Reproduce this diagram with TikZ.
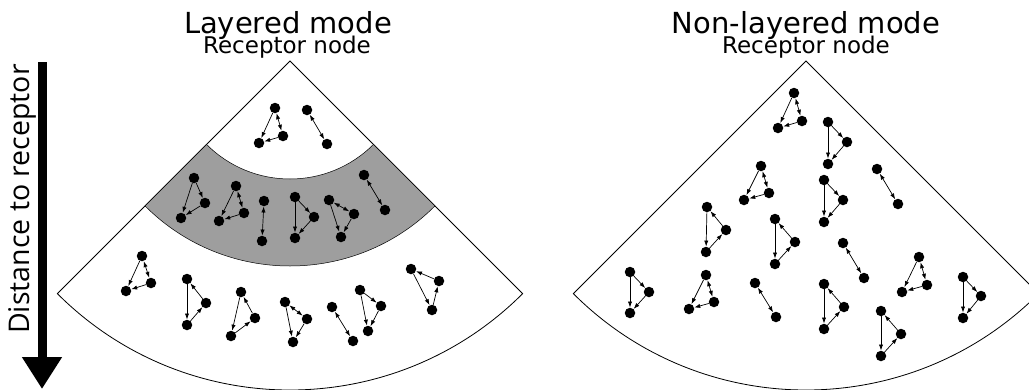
\documentclass[tikz,border=0pt]{standalone}
\usepackage{fontspec}
\setmainfont{DejaVu Sans}
\newfontfamily\sidefont{Open Sans}
\usetikzlibrary{arrows.meta,positioning}
\definecolor{bandgray}{gray}{0.62}
\tikzset{
	agent/.style={
		circle,
		fill=black,
		inner sep=0pt,
		minimum size=10.5pt,
	},
	link/.style={
		line width=0.7pt,
		>={Latex[length=6pt,width=4.2pt]},
		->,
	},
	fan/.style={draw=black, line width=0.8pt},
	band/.style={fill=bandgray, draw=black, line width=0.5pt},
}
% t <-> r, t -> b, r -> b
\newcommand{\mutualtri}[4]{%
	\node	(#1t)	[agent]	at (#2)	{};
	\node	(#1r)	[agent]	at (#3)	{};
	\node	(#1b)	[agent]	at (#4)	{};
	\path[link] (#1t) edge[<->] (#1r) (#1t) edge (#1b) (#1r) edge (#1b);
}
% t -> r, t -> b, r -> b
\newcommand{\forwardtri}[4]{%
	\node	(#1t)	[agent]	at (#2)	{};
	\node	(#1r)	[agent]	at (#3)	{};
	\node	(#1b)	[agent]	at (#4)	{};
	\path[link] (#1t) edge (#1r) (#1t) edge (#1b) (#1r) edge (#1b);
}
% t -> b -> r -> t
\newcommand{\cycletri}[4]{%
	\node	(#1t)	[agent]	at (#2)	{};
	\node	(#1r)	[agent]	at (#3)	{};
	\node	(#1b)	[agent]	at (#4)	{};
	\path[link] (#1t) edge (#1b) (#1b) edge (#1r) (#1r) edge (#1t);
}
% a <-> b
\newcommand{\mutualpair}[3]{%
	\node	(#1a)	[agent]	at (#2)	{};
	\node	(#1b)	[agent]	at (#3)	{};
	\path[link] (#1a) edge[<->] (#1b);
}

\begin{document}
\begin{tikzpicture}[x=1pt, y=-1pt]
\useasboundingbox (0,0) rectangle (1029,389);

\coordinate	(apexL)	at (290,61);
\coordinate	(apexR)	at (806,61);

% layered mode
\draw[fan] (apexL) -- ++(45:329) arc[start angle=45, end angle=135, radius=329] -- cycle;
\draw[band] (apexL) ++(45:118) arc[start angle=45, end angle=135, radius=118] -- ++(135:87) arc[start angle=135, end angle=45, radius=205] -- cycle;

% non-layered mode
\draw[fan] (apexR) -- ++(45:329) arc[start angle=45, end angle=135, radius=329] -- cycle;

\node	(titleL)	[anchor=base, font=\fontsize{29}{29}\selectfont]	at (288,33)	{Layered mode};
\node	(recL)	[anchor=base, font=\fontsize{23}{23}\selectfont]	at (287,53)	{Receptor node};
\node	(titleR)	[anchor=base, font=\fontsize{29}{29}\selectfont]	at (806,33)	{Non-layered mode};
\node	(recR)	[anchor=base, font=\fontsize{23}{23}\selectfont]	at (806,53)	{Receptor node};

% distance arrow
\coordinate	(distTop)	at (42,62);
\coordinate	(distEnd)	at (42,389);
\draw[line width=9pt, -{Triangle[length=32pt,width=38pt]}] (distTop) -- (distEnd);
\node	(distLabel)	[rotate=90, anchor=base east, inner sep=0pt, font=\sidefont\fontsize{28.5}{28.5}\selectfont]	at (30,64)	{Distance to receptor};

% layered: near the receptor
\mutualtri{lt1}{275,108}{283,136}{259,143}
\mutualpair{lt2}{307,110}{327,144}

% layered: grey band
\forwardtri{lb1}{194,178}{205,203}{181,218}
\mutualtri{lb2}{236,186}{244,213}{219,221}
\mutualpair{lb3}{264,201}{262,241}
\forwardtri{lb4}{295,197}{314,217}{295,238}
\mutualtri{lb5}{329,200}{354,214}{341,237}
\mutualpair{lb6}{364,175}{385,210}

% layered: far from the receptor
\mutualtri{lo1}{142,256}{151,283}{126,291}
\cycletri{lo2}{187,279}{206,303}{187,325}
\cycletri{lo3}{241,292}{255,318}{231,336}
\mutualtri{lo4}{285,302}{307,319}{293,342}
\mutualpair{lo5}{332,307}{353,341}
\forwardtri{lo6}{360,290}{381,306}{368,331}
\cycletri{lo7}{411,269}{439,281}{432,310}

% non-layered
\mutualtri{nl1}{794,93}{802,121}{778,128}
\forwardtri{nl2}{828,122}{847,142}{828,164}
\mutualtri{nl3}{761,166}{769,193}{744,200}
\forwardtri{nl4}{824,180}{843,200}{824,222}
\mutualpair{nl5}{877,169}{898,204}
\cycletri{nl6}{707,207}{726,230}{706,252}
\cycletri{nl7}{775,219}{795,242}{775,264}
\mutualpair{nl8}{843,243}{864,278}
\mutualtri{nl9}{919,257}{927,285}{902,292}
\forwardtri{nl10}{963,277}{981,296}{963,318}
\forwardtri{nl11}{630,272}{649,292}{630,313}
\mutualtri{nl12}{706,275}{714,302}{689,309}
\mutualpair{nl13}{755,283}{776,317}
\cycletri{nl14}{824,284}{844,307}{824,329}
\cycletri{nl15}{881,311}{901,334}{881,356}

\end{tikzpicture}
\end{document}
